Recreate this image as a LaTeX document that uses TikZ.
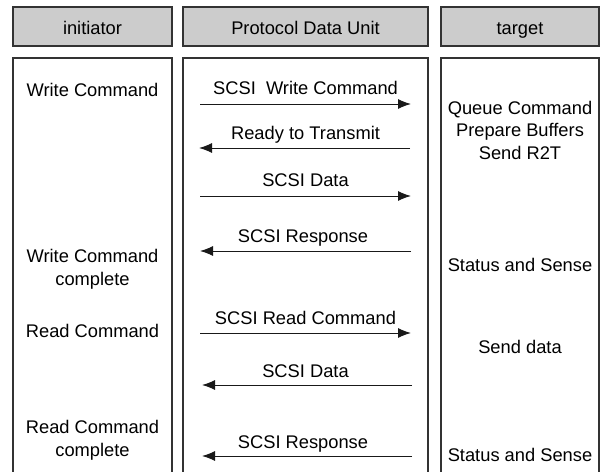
\documentclass[tikz,border=0pt]{standalone}
\usepackage{fontspec}
\setmainfont{Liberation Sans}
\usetikzlibrary{arrows.meta}
\begin{document}
\begin{tikzpicture}[x=1pt,y=-1pt,
    every node/.style={font=\fontsize{18.3}{22.5}\selectfont,inner sep=0pt},
    head/.style={draw=black!80,line width=1.3pt,fill=black!20,minimum height=39pt,
      text height=18pt,text depth=2pt},
    lane/.style={draw=black!80,line width=1.3pt},
    txt/.style={anchor=base,align=center},
    msg/.style={draw=black!90,line width=1pt,-{Latex[length=13pt,width=10pt]}}]
  \useasboundingbox (0,0) rectangle (602,471);
  \clip (0,0) rectangle (602,471);
  % column heads
  \node[head,minimum width=159pt] (init) at (92.5,26.5) {initiator};
  \node[head,minimum width=245pt] (pdu) at (305.5,26.5) {Protocol Data Unit};
  \node[head,minimum width=158pt] (targ) at (520,26.5) {target};
  % lanes
  \draw[lane] (13,58) rectangle (172,495);
  \draw[lane] (183,58) rectangle (428,495);
  \draw[lane] (441,58) rectangle (599,495);
  % initiator side (base = last line)
  \node[txt] (i1) at (92.5,96) {Write Command};
  \node[txt] (i2) at (92.5,285) {Write Command\\complete};
  \node[txt] (i3) at (92.5,337) {Read Command};
  \node[txt] (i4) at (92.5,456) {Read Command\\complete};
  % target side
  \node[txt] (t1) at (520,159) {Queue Command\\Prepare Buffers\\Send R2T};
  \node[txt] (t2) at (520,271) {Status and Sense};
  \node[txt] (t3) at (520,353) {Send data};
  \node[txt] (t4) at (520,461) {Status and Sense};
  % message ends
  \coordinate (w1) at (200,104); \coordinate (e1) at (411,104);
  \coordinate (w2) at (199,148); \coordinate (e2) at (410,148);
  \coordinate (w3) at (200,196); \coordinate (e3) at (411,196);
  \coordinate (w4) at (200,251); \coordinate (e4) at (411,251);
  \coordinate (w5) at (200,333); \coordinate (e5) at (411,333);
  \coordinate (w6) at (202,385); \coordinate (e6) at (412,385);
  \coordinate (w7) at (202,456); \coordinate (e7) at (412,456);
  % messages
  \node[txt] (m1) at (305.5,94) {SCSI\ \ Write Command};
  \draw[msg] (w1) -- (e1);
  \node[txt] (m2) at (305.5,139) {Ready to Transmit};
  \draw[msg] (e2) -- (w2);
  \node[txt] (m3) at (305.5,186) {SCSI Data};
  \draw[msg] (w3) -- (e3);
  \node[txt] (m4) at (303,242) {SCSI Response};
  \draw[msg] (e4) -- (w4);
  \node[txt] (m5) at (305.5,324) {SCSI Read Command};
  \draw[msg] (w5) -- (e5);
  \node[txt] (m6) at (305.5,377) {SCSI Data};
  \draw[msg] (e6) -- (w6);
  \node[txt] (m7) at (303,448) {SCSI Response};
  \draw[msg] (e7) -- (w7);
\end{tikzpicture}
\end{document}
